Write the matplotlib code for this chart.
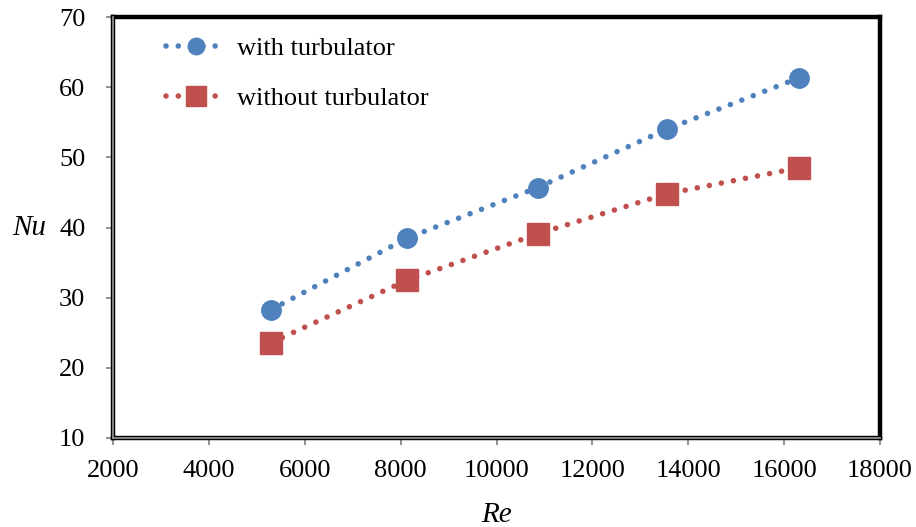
import matplotlib.pyplot as plt
from matplotlib.lines import Line2D

plt.rcParams['font.family'] = ['Liberation Serif', 'DejaVu Serif']

# Reynolds number vs Nusselt number
re_vals = [5300, 8140, 10860, 13550, 16300]
nu_with = [28.3, 38.5, 45.7, 54.0, 61.3]
nu_without = [23.6, 32.5, 39.1, 44.8, 48.5]

blue = '#4F81BD'
red = '#C0504D'
dots = (0, (0.01, 2.2))

fig = plt.figure(figsize=(9.16, 5.27), dpi=100)
ax = fig.add_axes([0.1234, 0.1689, 0.8373, 0.7988])

ax.plot(re_vals, nu_with, color=blue, lw=4, ls=dots, dash_capstyle='round',
        marker='o', ms=14, mec=blue, mfc=blue, label='with turbulator')
ax.plot(re_vals, nu_without, color=red, lw=4, ls=dots, dash_capstyle='round',
        marker='s', ms=16.5, mec=red, mfc=red, label='without turbulator')

ax.set_xlim(2000, 18000)
ax.set_ylim(10, 70)
ax.set_xticks(range(2000, 18001, 2000))
ax.set_yticks(range(10, 71, 10))
ax.tick_params(axis='both', labelsize=19, direction='out', length=5, width=1.2,
               color='#808080')
ax.tick_params(axis='x', pad=11)
ax.tick_params(axis='y', pad=15)

for s in ax.spines.values():
    s.set_linewidth(3.2)
    s.set_color('black')

# gray axis lines just inside the frame
ax.add_line(Line2D([0, 0], [0, 1], transform=ax.transAxes, color='#8c8c8c',
                   lw=1.3, clip_on=False, zorder=5))
ax.add_line(Line2D([0, 1], [0, 0], transform=ax.transAxes, color='#8c8c8c',
                   lw=1.3, clip_on=False, zorder=5))

ax.set_xlabel('Re', fontsize=21, style='italic', labelpad=14)
ax.set_ylabel('Nu', fontsize=21, style='italic', rotation=0, labelpad=21, va='center')

ax.legend(loc='upper left', bbox_to_anchor=(0.055, 0.978), frameon=False,
          fontsize=19, numpoints=1, markerscale=0.85, handlelength=2.3,
          handletextpad=0.4, labelspacing=1.0, borderaxespad=0)

fig.savefig('out.png', dpi=100)
